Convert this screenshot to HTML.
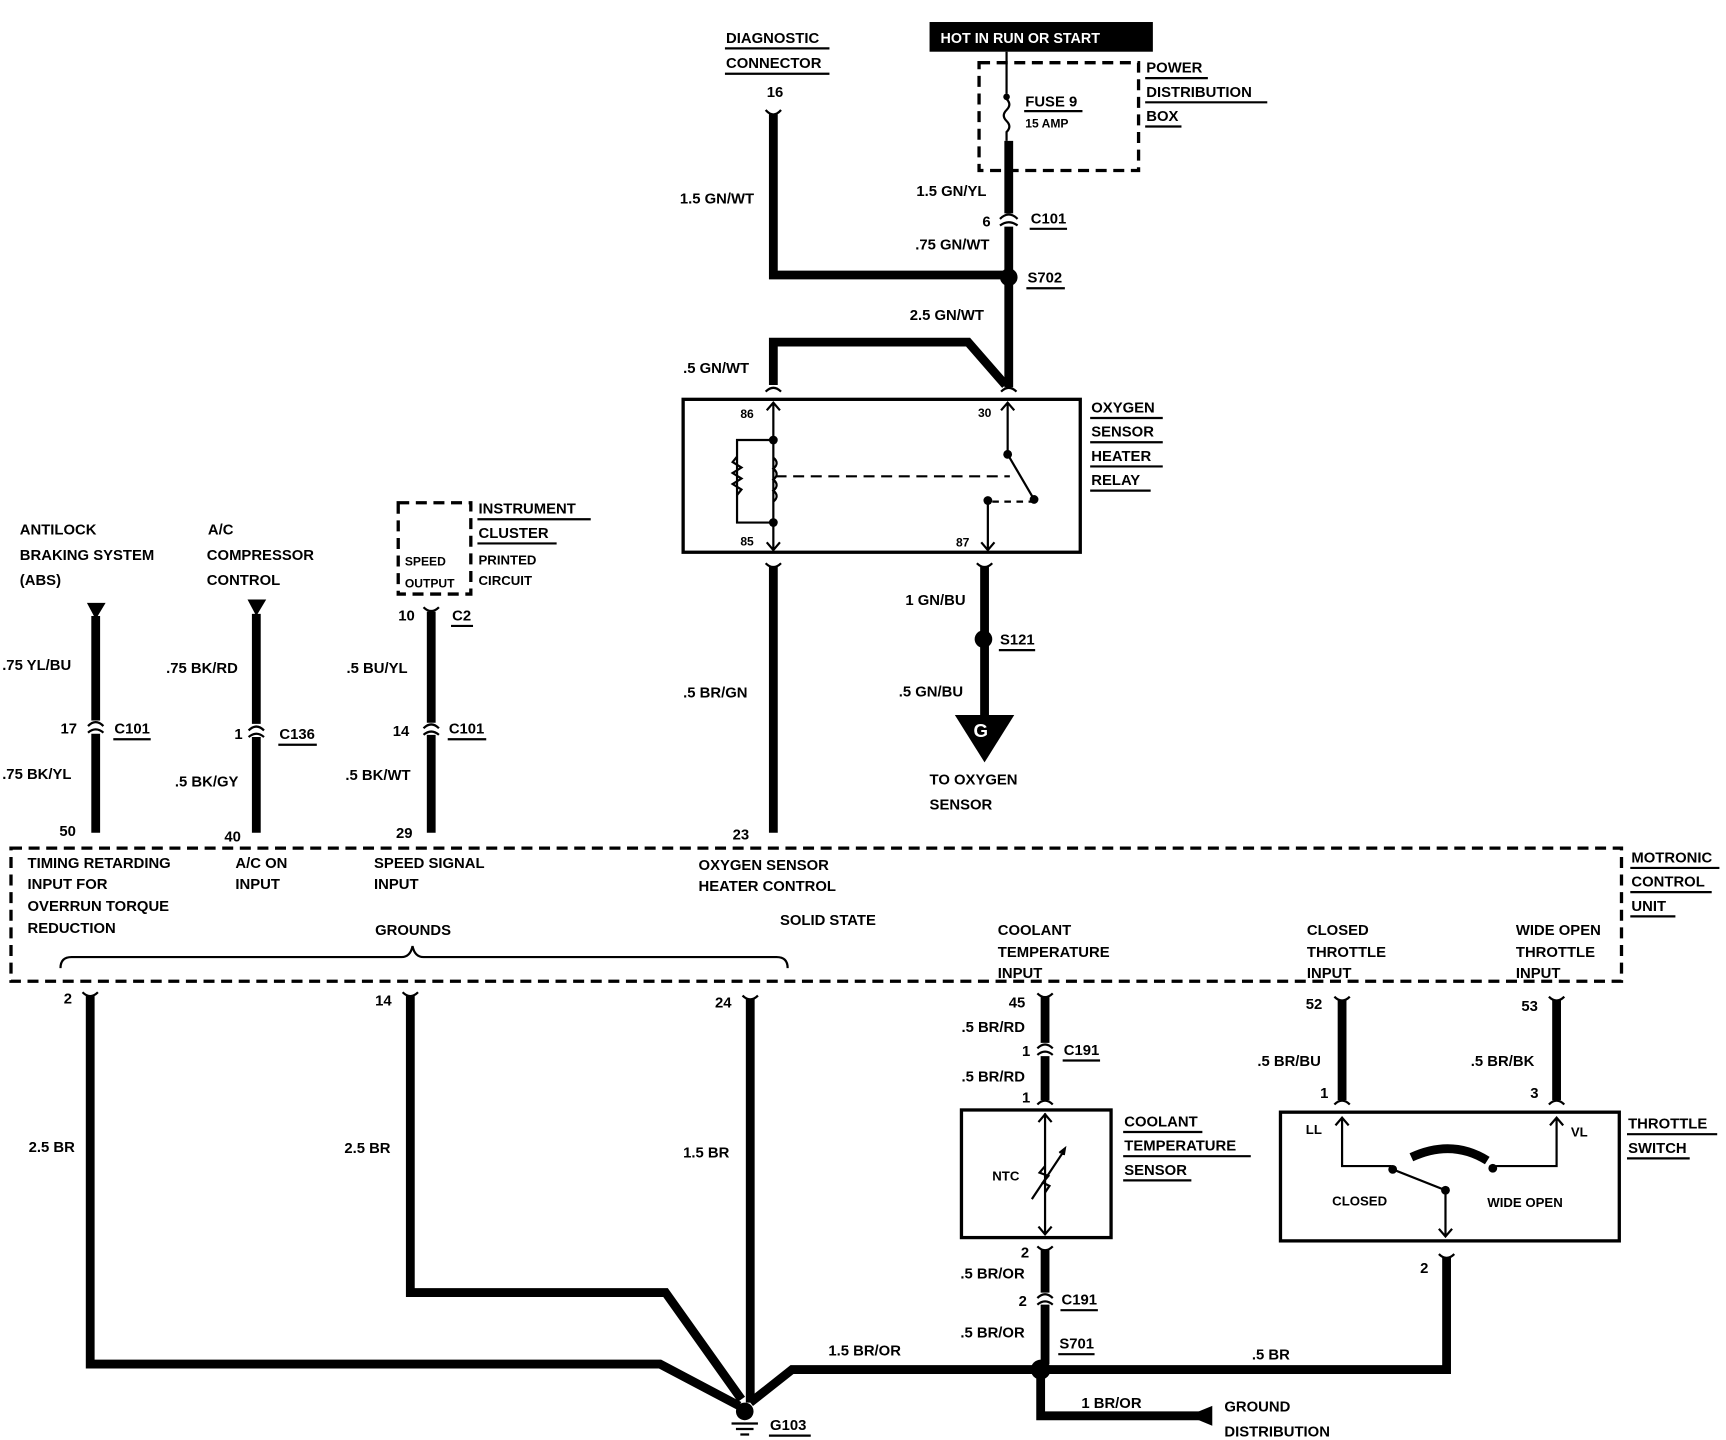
<!DOCTYPE html>
<html><head><meta charset="utf-8"><style>
html,body{margin:0;padding:0;background:#fff}
svg{display:block}
text{font-family:"Liberation Sans",sans-serif;font-weight:bold;font-size:13.5px;fill:#000}
.w{stroke:#000;stroke-width:8;fill:none;stroke-linejoin:miter}
.t{stroke:#000;stroke-width:2;fill:none}
.d{stroke:#000;stroke-width:3;fill:none;stroke-dasharray:10 6}
.u{stroke:#000;stroke-width:2}
</style></head><body>
<svg width="1726" height="1440" viewBox="0 0 1569 1309" xmlns="http://www.w3.org/2000/svg">
<!-- HOT box -->
<rect x="845" y="20" width="203" height="27" fill="#000"/>
<text x="855" y="39" style="fill:#fff;font-size:13px">HOT IN RUN OR START</text>
<!-- Power distribution -->
<rect x="890" y="57" width="145" height="98" class="d"/>
<text x="1042" y="66">POWER</text><line x1="1041" y1="71" x2="1098" y2="71" class="u"/>
<text x="1042" y="88">DISTRIBUTION</text><line x1="1041" y1="93" x2="1152" y2="93" class="u"/>
<text x="1042" y="110">BOX</text><line x1="1041" y1="115" x2="1074" y2="115" class="u"/>
<line x1="915" y1="47" x2="915" y2="85" class="t"/><circle cx="915" cy="88" r="3"/>
<path d="M915 90 q5 5 0 10 q-5 5 0 10 q5 5 0 10 v8" class="t"/>
<text x="932" y="97">FUSE 9</text><line x1="931" y1="101" x2="984" y2="101" class="u"/>
<text x="932" y="116" style="font-size:11px">15 AMP</text>
<!-- Diagnostic -->
<text x="660" y="39">DIAGNOSTIC</text><line x1="659" y1="44" x2="754" y2="44" class="u"/>
<text x="660" y="62">CONNECTOR</text><line x1="659" y1="67" x2="754" y2="67" class="u"/>
<text x="697" y="88">16</text>
<path d="M696 100 q7 8 14 0" class="t" stroke-width="4"/>
<path d="M703 104 V250 H917" class="w"/>
<text x="618" y="185">1.5 GN/WT</text>
<!-- fuse to S702 -->
<path d="M917 128 V194" class="w"/>
<path d="M909 199 q8 -8 16 0" class="t" stroke-width="4"/><path d="M909 205 q8 -6 16 0" class="t" stroke-width="4"/>
<path d="M917 206 V252" class="w"/>
<text x="833" y="178">1.5 GN/YL</text>
<text x="893" y="206">6</text>
<text x="937" y="203">C101</text><line x1="936" y1="208" x2="970" y2="208" class="u"/>
<text x="832" y="227">.75 GN/WT</text>
<circle cx="917" cy="252" r="8"/>
<text x="934" y="257">S702</text><line x1="933" y1="262" x2="968" y2="262" class="u"/>
<path d="M917 252 V352" class="w"/>
<text x="827" y="291">2.5 GN/WT</text>
<path d="M914 350 L880 311 H703 V350" class="w"/>
<text x="621" y="339">.5 GN/WT</text>
<path d="M696 356 q7 -7 14 0" class="t" stroke-width="4"/><path d="M910 356 q7 -7 14 0" class="t" stroke-width="4"/>
<!-- relay -->
<rect x="621" y="363" width="361" height="139" fill="none" stroke="#000" stroke-width="3"/>
<text x="992" y="375">OXYGEN</text><line x1="991" y1="380" x2="1057" y2="380" class="u"/>
<text x="992" y="397">SENSOR</text><line x1="991" y1="402" x2="1057" y2="402" class="u"/>
<text x="992" y="419">HEATER</text><line x1="991" y1="424" x2="1057" y2="424" class="u"/>
<text x="992" y="441">RELAY</text><line x1="991" y1="446" x2="1046" y2="446" class="u"/>
<text x="673" y="380" style="font-size:11px">86</text><text x="673" y="496" style="font-size:11px">85</text>
<text x="889" y="379" style="font-size:11px">30</text><text x="869" y="497" style="font-size:11px">87</text>
<path d="M703 367 V475 M697 373 l6 -7 l6 7 M697 493 l6 7 l6 -7 M703 475 V500" class="t"/>
<path d="M703 400 H670 V475 H703" class="t"/>
<circle cx="703" cy="400" r="4"/><circle cx="703" cy="475" r="4"/>
<path d="M670 415 l-4 5 l8 5 l-8 5 l8 5 l-8 5 l8 5 l-4 5" class="t"/>
<path d="M703 416 q6 5 0 10 q6 5 0 10 q6 5 0 10 q6 5 0 10" class="t"/>
<line x1="705" y1="433" x2="918" y2="433" class="t" stroke-dasharray="10 6"/>
<path d="M916 367 V412 M910 373 l6 -7 l6 7 M916 413 L940 454" class="t"/>
<circle cx="916" cy="413" r="4"/><circle cx="940" cy="454" r="4"/><circle cx="898" cy="455" r="4"/>
<line x1="902" y1="456" x2="938" y2="456" class="t" stroke-dasharray="6 5"/>
<path d="M898 455 V500 M892 493 l6 7 l6 -7" class="t"/>
<!-- relay bottom wires -->
<path d="M696 512 q7 7 14 0" class="t" stroke-width="4"/><path d="M888 512 q7 7 14 0" class="t" stroke-width="4"/>
<path d="M703 515 V757" class="w"/>
<text x="621" y="634">.5 BR/GN</text>
<text x="666" y="763">23</text>
<path d="M895 515 V652" class="w"/>
<text x="823" y="550">1 GN/BU</text>
<circle cx="894" cy="581" r="8"/>
<text x="909" y="586">S121</text><line x1="908" y1="591" x2="941" y2="591" class="u"/>
<text x="817" y="633">.5 GN/BU</text>
<path d="M868 650 H922 L895 693 Z"/>
<text x="885" y="670" style="fill:#fff;font-size:17px">G</text>
<text x="845" y="713">TO OXYGEN</text><text x="845" y="736">SENSOR</text>
<!-- left inputs -->
<text x="18" y="486">ANTILOCK</text><text x="18" y="509">BRAKING SYSTEM</text><text x="18" y="532">(ABS)</text>
<path d="M79 548 H96 L87 563 Z"/>
<path d="M87 560 V655" class="w"/><path d="M80 660 q7 -7 14 0 M80 666 q7 -6 14 0" class="t" stroke-width="4"/>
<path d="M87 667 V757" class="w"/>
<text x="2" y="609">.75 YL/BU</text><text x="55" y="667">17</text>
<text x="104" y="667">C101</text><line x1="103" y1="672" x2="137" y2="672" class="u"/>
<text x="2" y="708">.75 BK/YL</text><text x="54" y="760">50</text>
<text x="189" y="486">A/C</text><text x="188" y="509">COMPRESSOR</text><text x="188" y="532">CONTROL</text>
<path d="M225 545 H242 L233 560 Z"/>
<path d="M233 558 V658" class="w"/><path d="M226 664 q7 -7 14 0 M226 670 q7 -6 14 0" class="t" stroke-width="4"/>
<path d="M233 670 V757" class="w"/>
<text x="151" y="612">.75 BK/RD</text><text x="213" y="672">1</text>
<text x="254" y="672">C136</text><line x1="253" y1="677" x2="288" y2="677" class="u"/>
<text x="159" y="715">.5 BK/GY</text><text x="204" y="765">40</text>
<rect x="362" y="457" width="66" height="83" class="d"/>
<text x="368" y="514" style="font-size:11px">SPEED</text><text x="368" y="534" style="font-size:11px">OUTPUT</text>
<text x="435" y="467">INSTRUMENT</text><line x1="434" y1="472" x2="537" y2="472" class="u"/>
<text x="435" y="489">CLUSTER</text><line x1="434" y1="494" x2="506" y2="494" class="u"/>
<text x="435" y="513" style="font-size:12px">PRINTED</text><text x="435" y="532" style="font-size:12px">CIRCUIT</text>
<text x="362" y="564">10</text><text x="411" y="564">C2</text><line x1="410" y1="569" x2="430" y2="569" class="u"/>
<path d="M385 552 q7 7 14 0" class="t" stroke-width="4"/>
<path d="M392 556 V657" class="w"/><path d="M385 662 q7 -7 14 0 M385 668 q7 -6 14 0" class="t" stroke-width="4"/>
<path d="M392 668 V757" class="w"/>
<text x="315" y="612">.5 BU/YL</text><text x="357" y="669">14</text>
<text x="408" y="667">C101</text><line x1="407" y1="672" x2="442" y2="672" class="u"/>
<text x="314" y="709">.5 BK/WT</text><text x="360" y="762">29</text>
<!-- Motronic -->
<rect x="10" y="771" width="1464" height="121" class="d"/>
<text x="1483" y="784">MOTRONIC</text><line x1="1482" y1="789" x2="1563" y2="789" class="u"/>
<text x="1483" y="806">CONTROL</text><line x1="1482" y1="811" x2="1556" y2="811" class="u"/>
<text x="1483" y="828">UNIT</text><line x1="1482" y1="833" x2="1523" y2="833" class="u"/>
<g style="font-size:12px">
<text x="25" y="789">TIMING RETARDING</text><text x="25" y="808">INPUT FOR</text><text x="25" y="828">OVERRUN TORQUE</text><text x="25" y="848">REDUCTION</text>
<text x="214" y="789">A/C ON</text><text x="214" y="808">INPUT</text>
<text x="340" y="789">SPEED SIGNAL</text><text x="340" y="808">INPUT</text>
<text x="635" y="791">OXYGEN SENSOR</text><text x="635" y="810">HEATER CONTROL</text>
<text x="341" y="850">GROUNDS</text>
<text x="907" y="850">COOLANT</text><text x="907" y="870">TEMPERATURE</text><text x="907" y="889">INPUT</text>
<text x="1188" y="850">CLOSED</text><text x="1188" y="870">THROTTLE</text><text x="1188" y="889">INPUT</text>
<text x="1378" y="850">WIDE OPEN</text><text x="1378" y="870">THROTTLE</text><text x="1378" y="889">INPUT</text>
</g>
<text x="709" y="841">SOLID STATE</text>
<path d="M55 880 q0 -10 10 -10 H365 q8 0 10 -10 q2 10 10 10 H706 q10 0 10 10" class="t"/>
<!-- grounds -->
<text x="58" y="912">2</text><text x="341" y="914">14</text><text x="650" y="916">24</text>
<path d="M75 902 q7 7 14 0 M366 902 q7 7 14 0 M675 905 q7 7 14 0" class="t" stroke-width="4"/>
<path d="M82 905 V1240 H600 L672 1278" class="w"/>
<path d="M373 905 V1175 H605 L674 1272" class="w"/>
<path d="M682 908 V1275" class="w"/>
<text x="26" y="1047">2.5 BR</text><text x="313" y="1048">2.5 BR</text><text x="621" y="1052">1.5 BR</text>
<circle cx="677" cy="1283" r="8"/>
<path d="M665 1294 H689 M669 1299 H685 M673 1304 H681" class="u"/>
<text x="700" y="1300">G103</text><line x1="699" y1="1305" x2="737" y2="1305" class="u"/>
<path d="M682 1275 L720 1245 H945" class="w"/>
<text x="753" y="1232">1.5 BR/OR</text>
<circle cx="946" cy="1245" r="9"/>
<text x="963" y="1226">S701</text><line x1="962" y1="1231" x2="995" y2="1231" class="u"/>
<path d="M946 1245 H1315 V1143" class="w"/>
<path d="M1308 1140 q7 7 14 0" class="t" stroke-width="4"/>
<text x="1138" y="1236">.5 BR</text><text x="1291" y="1157">2</text>
<path d="M946 1245 V1287 H1090" class="w"/>
<path d="M1080 1287 L1102 1278 V1296 Z"/>
<text x="983" y="1280">1 BR/OR</text>
<text x="1113" y="1283">GROUND</text><text x="1113" y="1306">DISTRIBUTION</text>
<!-- coolant -->
<text x="917" y="916">45</text>
<path d="M943 903 q7 7 14 0" class="t" stroke-width="4"/>
<path d="M950 906 V948" class="w"/><path d="M943 953 q7 -7 14 0 M943 959 q7 -6 14 0" class="t" stroke-width="4"/>
<path d="M950 960 V1000" class="w"/><path d="M943 1004 q7 -7 14 0" class="t" stroke-width="4"/>
<text x="874" y="938">.5 BR/RD</text><text x="929" y="960">1</text>
<text x="967" y="959">C191</text><line x1="966" y1="964" x2="1000" y2="964" class="u"/>
<text x="874" y="983">.5 BR/RD</text><text x="929" y="1002">1</text>
<rect x="874" y="1009" width="136" height="116" fill="none" stroke="#000" stroke-width="3"/>
<text x="1022" y="1024">COOLANT</text><line x1="1021" y1="1029" x2="1093" y2="1029" class="u"/>
<text x="1022" y="1046">TEMPERATURE</text><line x1="1021" y1="1051" x2="1137" y2="1051" class="u"/>
<text x="1022" y="1068">SENSOR</text><line x1="1021" y1="1073" x2="1083" y2="1073" class="u"/>
<text x="902" y="1073" style="font-size:12px">NTC</text>
<path d="M950 1012 V1122 M944 1020 l6 -7 l6 7 M944 1115 l6 7 l6 -7" class="t"/>
<path d="M938 1090 L968 1045 M963 1048 l5 -4 l-1 6" class="t"/>
<path d="M950 1060 l-5 6 l8 3 l-5 6 l6 3 l-4 6" class="t"/>
<text x="928" y="1143">2</text>
<path d="M943 1133 q7 7 14 0" class="t" stroke-width="4"/>
<path d="M950 1136 V1175" class="w"/><path d="M943 1180 q7 -7 14 0 M943 1186 q7 -6 14 0" class="t" stroke-width="4"/>
<path d="M950 1186 V1240" class="w"/>
<text x="873" y="1162">.5 BR/OR</text><text x="926" y="1187">2</text>
<text x="965" y="1186">C191</text><line x1="964" y1="1191" x2="998" y2="1191" class="u"/>
<text x="873" y="1216">.5 BR/OR</text>
<!-- throttle -->
<text x="1187" y="917">52</text><text x="1383" y="919">53</text>
<path d="M1213 906 q7 7 14 0 M1408 906 q7 7 14 0" class="t" stroke-width="4"/>
<path d="M1220 909 V1000 M1415 909 V1000" class="w"/>
<path d="M1213 1004 q7 -7 14 0 M1408 1004 q7 -7 14 0" class="t" stroke-width="4"/>
<text x="1143" y="969">.5 BR/BU</text><text x="1337" y="969">.5 BR/BK</text>
<text x="1200" y="998">1</text><text x="1391" y="998">3</text>
<rect x="1164" y="1011" width="308" height="117" fill="none" stroke="#000" stroke-width="3"/>
<text x="1480" y="1026">THROTTLE</text><line x1="1479" y1="1031" x2="1561" y2="1031" class="u"/>
<text x="1480" y="1048">SWITCH</text><line x1="1479" y1="1053" x2="1536" y2="1053" class="u"/>
<text x="1187" y="1031" style="font-size:12px">LL</text><text x="1428" y="1033" style="font-size:12px">VL</text>
<path d="M1220 1016 V1060 H1265 M1214 1023 l6 -7 l6 7 M1415 1016 V1060 H1360 M1409 1023 l6 -7 l6 7" class="t"/>
<circle cx="1266" cy="1063" r="4"/><circle cx="1357" cy="1062" r="4"/><circle cx="1314" cy="1082" r="4"/>
<path d="M1266 1063 L1314 1082 V1124 M1308 1117 l6 7 l6 -7" class="t" stroke-width="2.5"/>
<path d="M1283 1052 Q1320 1035 1352 1055" stroke="#000" stroke-width="8" fill="none"/>
<text x="1211" y="1096" style="font-size:12px">CLOSED</text><text x="1352" y="1097" style="font-size:12px">WIDE OPEN</text>
</svg>
</body></html>
